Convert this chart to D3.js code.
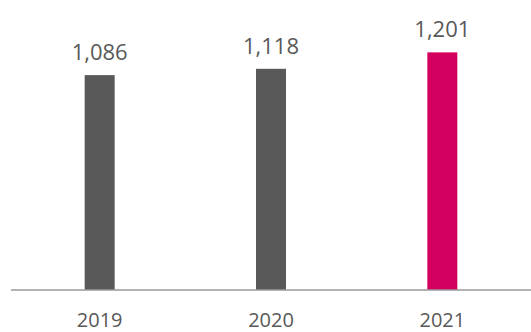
<!DOCTYPE html>
<html>
<head>
<meta charset="utf-8">
<script src="https://cdn.jsdelivr.net/npm/d3@7"></script>
<style>
    body { margin: 0; background: #fff; }
    text { font-family: "Open Sans", sans-serif; fill: #595959; }
</style>
</head>
<body>
<div id="chart"></div>
<script>
// data
const years = ["2019", "2020", "2021"]
const values = [1086, 1118, 1201]
const barColors = ["#595959", "#595959", "#d4005f"]

async function drawChart() {
    //------------------------ Dimensions
    const dimensions = {
        width: 531,
        height: 332,
        baseline: 290,
        top: 13
    }

    const wrapper = d3.select("#chart")
        .append("svg")
        .attr("width", dimensions.width)
        .attr("height", dimensions.height)

    const data = years.map((y, i) => ({ year: y, value: values[i], color: barColors[i] }))

    //------------------------ Scales
    const xScale = d3.scaleBand()
        .domain(years)
        .range([14, 528])

    const yScale = d3.scaleLinear()
        .domain([0, 1400])
        .range([dimensions.baseline, dimensions.top])

    const barWidth = 30

    //------------------------ Bars
    wrapper.append("g").selectAll("rect")
        .data(data)
        .join("rect")
        .attr("x", d => xScale(d.year) + xScale.bandwidth() / 2 - barWidth / 2)
        .attr("y", d => yScale(d.value))
        .attr("width", barWidth)
        .attr("height", d => dimensions.baseline - yScale(d.value))
        .attr("fill", d => d.color)

    //------------------------ Value labels
    wrapper.append("g").selectAll("text")
        .data(data)
        .join("text")
        .attr("x", d => xScale(d.year) + xScale.bandwidth() / 2)
        .attr("y", d => yScale(d.value) - 15)
        .attr("text-anchor", "middle")
        .style("font-size", "22px")
        .text(d => d3.format(",")(d.value))

    //------------------------ Axis
    const xAxisGenerator = d3.axisBottom(xScale)
        .tickSize(0)
        .tickPadding(23)

    const xAxis = wrapper.append("g")
        .attr("transform", `translate(0, ${dimensions.baseline})`)
        .call(xAxisGenerator)

    xAxis.select(".domain")
        .attr("d", `M11,0H${dimensions.width}`)
        .attr("stroke", "#9a9a9a")
        .attr("stroke-width", 1.5)

    xAxis.selectAll(".tick text")
        .attr("fill", "#595959")
        .style("font-family", "'Open Sans', sans-serif")
        .style("font-size", "20px")
}
drawChart()
</script>
</body>
</html>
